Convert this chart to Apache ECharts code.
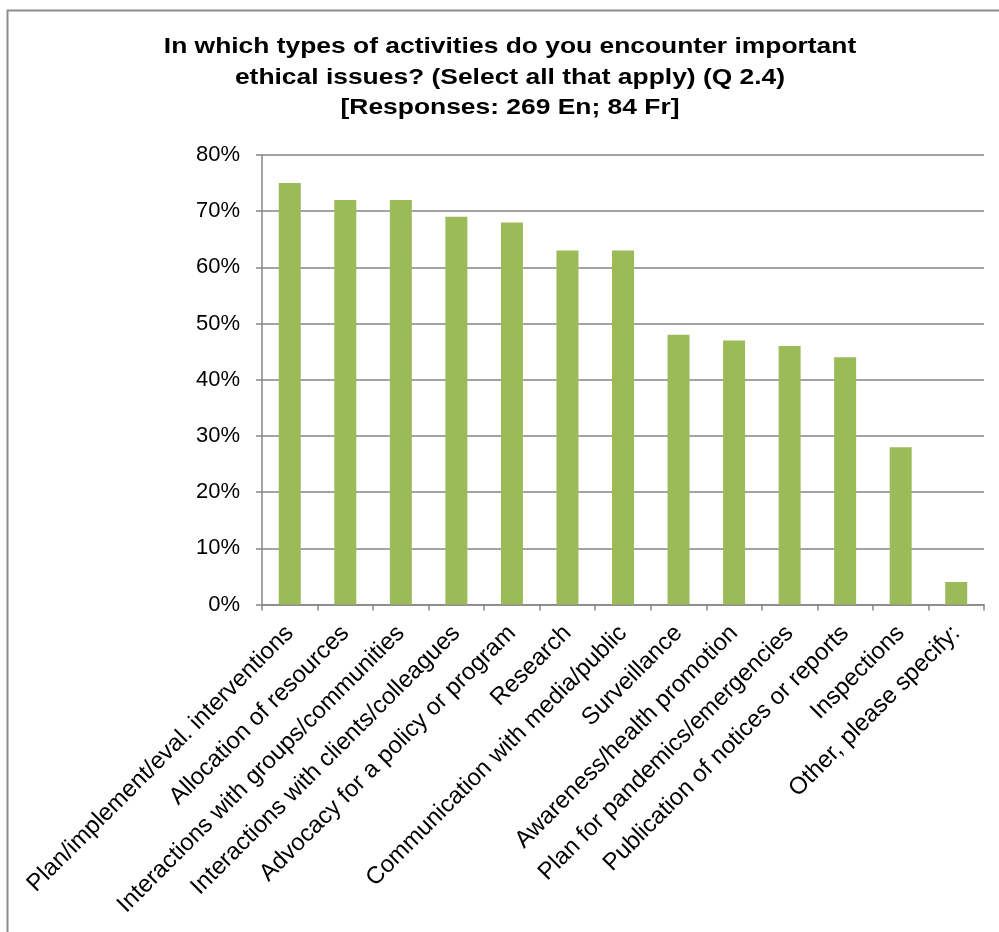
<!DOCTYPE html>
<html>
<head>
<meta charset="utf-8">
<script src="https://cdn.jsdelivr.net/npm/echarts@6/dist/echarts.min.js"></script>
<style>
  html, body { margin: 0; padding: 0; background: #fff; }
  #chart { width: 999px; height: 932px; }
</style>
</head>
<body>
<div id="chart"></div>
<script>
// Activity categories and share of respondents selecting each (%)
const categories = [
  'Plan/implement/eval. interventions',
  'Allocation of resources',
  'Interactions with groups/communities',
  'Interactions with clients/colleagues',
  'Advocacy for a policy or program',
  'Research',
  'Communication with media/public',
  'Surveillance',
  'Awareness/health promotion',
  'Plan for pandemics/emergencies',
  'Publication of notices or reports',
  'Inspections',
  'Other, please specify:'
];
const percentValues = [75, 72, 72, 69, 68, 63, 63, 48, 47, 46, 44, 28, 4];
const titleLines = [
  'In which types of activities do you encounter important',
  'ethical issues? (Select all that apply) (Q 2.4)',
  '[Responses: 269 En; 84 Fr]'
];

const chart = echarts.init(document.getElementById('chart'), null, { renderer: 'canvas' });
const font = '"Liberation Sans", Arial, sans-serif';

// Title is drawn as wide bold text, one element per line
const titleGraphics = titleLines.map((line, i) => ({
  type: 'text',
  x: 510,
  y: 47 + i * 30.5,
  scaleX: 1.2,
  silent: true,
  style: {
    text: line,
    x: 0,
    y: 0,
    align: 'center',
    verticalAlign: 'middle',
    font: 'bold 22px ' + font,
    fill: '#000'
  }
}));

chart.setOption({
  backgroundColor: '#ffffff',
  animation: false,
  graphic: [{
    type: 'rect',
    shape: { x: 7.5, y: 10.5, width: 1200, height: 1200 },
    style: { fill: 'none', stroke: '#8c8c8c', lineWidth: 2 },
    silent: true
  }].concat(titleGraphics),
  grid: { left: 262, right: 15, top: 155, bottom: 327.5 },
  xAxis: {
    type: 'category',
    data: categories,
    axisLine: { lineStyle: { color: '#868686', width: 1.5 } },
    axisTick: { show: true, length: 6, lineStyle: { color: '#868686', width: 1.5 } },
    axisLabel: {
      rotate: 45,
      interval: 0,
      margin: 25,
      fontFamily: font,
      fontSize: 24,
      color: '#000'
    }
  },
  yAxis: {
    type: 'value',
    min: 0,
    max: 80,
    interval: 10,
    axisLine: { show: true, lineStyle: { color: '#868686', width: 1.5 } },
    axisTick: { show: true, length: 6, lineStyle: { color: '#868686', width: 1.5 } },
    splitLine: { lineStyle: { color: '#868686', width: 1.5 } },
    axisLabel: {
      formatter: '{value}%',
      margin: 22,
      fontFamily: font,
      fontSize: 22,
      color: '#000'
    }
  },
  series: [{
    type: 'bar',
    data: percentValues,
    barWidth: 22,
    itemStyle: { color: '#9bbb59' }
  }]
});
</script>
</body>
</html>
